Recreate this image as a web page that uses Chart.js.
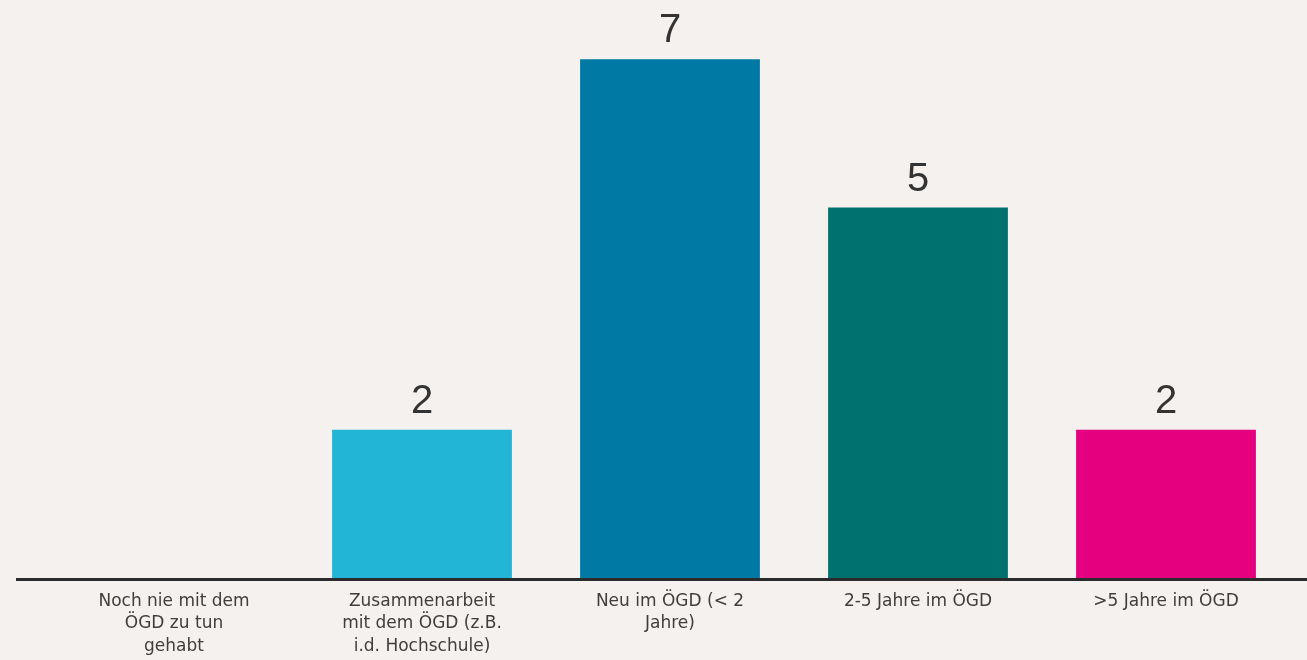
<!DOCTYPE html>
<html>
<head>
<meta charset="utf-8">
<script src="https://cdn.jsdelivr.net/npm/chart.js@4"></script>
<style>
  html, body { margin: 0; padding: 0; background: #f4f1ee; }
  #wrap { width: 1307px; height: 660px; position: relative; }
</style>
</head>
<body>
<div id="wrap"><canvas id="chart"></canvas></div>
<script>
var categories = [
  ["Noch nie mit dem", "ÖGD zu tun", "gehabt"],
  ["Zusammenarbeit", "mit dem ÖGD (z.B.", "i.d. Hochschule)"],
  ["Neu im ÖGD (< 2", "Jahre)"],
  "2-5 Jahre im ÖGD",
  ">5 Jahre im ÖGD"
];
var counts = [0, 2, 7, 5, 2];
var barColors = ["#22b5d6", "#22b5d6", "#0079a5", "#00716f", "#e4007e"];

// number above each bar (skip empty ones)
var valueLabels = {
  id: 'valueLabels',
  afterDatasetsDraw: function(chart) {
    var ctx = chart.ctx;
    var meta = chart.getDatasetMeta(0);
    ctx.save();
    ctx.fillStyle = '#333333';
    ctx.font = '40px "Liberation Sans", Arial, sans-serif';
    ctx.textAlign = 'center';
    ctx.textBaseline = 'bottom';
    meta.data.forEach(function(bar, i) {
      if (!counts[i]) return;
      ctx.fillText(counts[i], bar.x, bar.y - 8);
    });
    ctx.restore();
  }
};

// baseline runs almost the whole width
var baseLine = {
  id: 'baseLine',
  afterDatasetsDraw: function(chart) {
    var ctx = chart.ctx;
    var y = chart.scales.y.getPixelForValue(0) + 1.5;
    ctx.save();
    ctx.strokeStyle = '#2b2b2b';
    ctx.lineWidth = 3;
    ctx.beginPath();
    ctx.moveTo(16, y);
    ctx.lineTo(chart.width, y);
    ctx.stroke();
    ctx.restore();
  }
};

var ctx = document.getElementById("chart").getContext('2d');

var bar_config = {
  type: 'bar',
  data: {
    labels: categories,
    datasets: [{
      data: counts,
      backgroundColor: barColors,
      borderWidth: 0,
      categoryPercentage: 1,
      barPercentage: 0.725
    }]
  },
  options: {
    responsive: true,
    maintainAspectRatio: false,
    animation: false,
    layout: { padding: { left: 50, right: 17, top: 0, bottom: 0 } },
    plugins: { legend: { display: false }, tooltip: { enabled: false } },
    scales: {
      x: {
        grid: { display: false, drawTicks: false },
        border: { display: false },
        ticks: {
          color: '#3e3e3e',
          padding: 12,
          maxRotation: 0,
          autoSkip: false,
          font: { family: '"DejaVu Sans", sans-serif', size: 17, lineHeight: 1.32 }
        },
        afterFit: function(scale) { scale.height = 82; }
      },
      y: {
        display: false,
        min: 0,
        max: 7.8
      }
    }
  },
  plugins: [valueLabels, baseLine]
};

var myBarChart = new Chart(ctx, bar_config);
</script>
</body>
</html>
